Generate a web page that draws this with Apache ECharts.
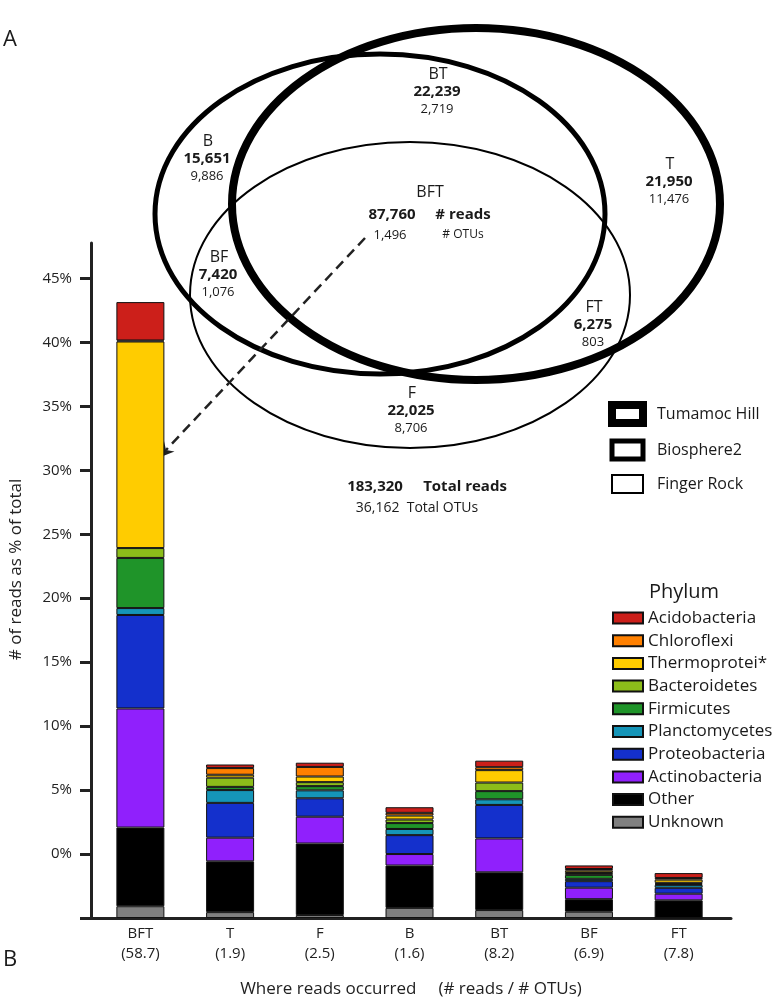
<!DOCTYPE html>
<html>
<head>
<meta charset="utf-8">
<script src="https://cdn.jsdelivr.net/npm/echarts@6/dist/echarts.min.js"></script>
<style>html,body{margin:0;padding:0;background:#fff}#c{width:780px;height:1003px}</style>
</head>
<body>
<div id="c"></div>
<script>
// ---- data (percent of total reads) ----
var categories = ['BFT', 'T', 'F', 'B', 'BT', 'BF', 'FT'];
var ratios = ['58.7', '1.9', '2.5', '1.6', '8.2', '6.9', '7.8'];
var unknown = [0.92, 0.46, 0.23, 0.79, 0.62, 0.49, 0];
var other   = [6.15, 3.97, 5.59, 3.31, 2.95, 0.98, 1.38];
var actino  = [9.31, 1.85, 2.10, 0.90, 2.65, 0.90, 0.52];
var proteo  = [7.31, 2.72, 1.44, 1.48, 2.62, 0.51, 0.46];
var planct  = [0.54, 1.00, 0.62, 0.48, 0.44, 0.18, 0.23];
var firm    = [3.92, 0.25, 0.33, 0.46, 0.64, 0.31, 0.08];
var bact    = [0.77, 0.72, 0.31, 0.28, 0.67, 0.15, 0.08];
var thermo  = [16.15, 0.23, 0.44, 0.31, 0.97, 0.18, 0.25];
var chloro  = [0.08, 0.52, 0.75, 0.21, 0.23, 0.13, 0.13];
var acido   = [3.00, 0.28, 0.33, 0.44, 0.51, 0.28, 0.38];
var yTickValues = [0, 5, 10, 15, 20, 25, 30, 35, 40, 45, 50];
var yLabelValues = [5, 10, 15, 20, 25, 30, 35, 40, 45, 50];
// Venn numbers
var vennRegions = [
  {name: 'BT', reads: '22,239', otus: '2,719'},
  {name: 'B', reads: '15,651', otus: '9,886'},
  {name: 'T', reads: '21,950', otus: '11,476'},
  {name: 'BFT', reads: '87,760', otus: '1,496'},
  {name: 'BF', reads: '7,420', otus: '1,076'},
  {name: 'FT', reads: '6,275', otus: '803'},
  {name: 'F', reads: '22,025', otus: '8,706'}
];
var totalReads = '183,320', totalOTUs = '36,162';
var siteNames = ['Tumamoc Hill', 'Biosphere2', 'Finger Rock'];

var phyla = [
  {name: 'Unknown', data: unknown, color: '#808080'},
  {name: 'Other', data: other, color: '#000000'},
  {name: 'Actinobacteria', data: actino, color: '#9020fc'},
  {name: 'Proteobacteria', data: proteo, color: '#1430cc'},
  {name: 'Planctomycetes', data: planct, color: '#1595b8'},
  {name: 'Firmicutes', data: firm, color: '#1f9429'},
  {name: 'Bacteroidetes', data: bact, color: '#8cbd1a'},
  {name: 'Thermoprotei*', data: thermo, color: '#ffcc00'},
  {name: 'Chloroflexi', data: chloro, color: '#ff8000'},
  {name: 'Acidobacteria', data: acido, color: '#cc1f1a'}
];

var FONT = '"Open Sans", sans-serif';
var chart = echarts.init(document.getElementById('c'), null, {renderer: 'canvas'});

// value in first dimension so that it is the stacked one; category index second
var series = phyla.map(function (p) {
  return {
    name: p.name, type: 'bar', stack: 'all', barWidth: 48,
    encode: {x: 1, y: 0},
    itemStyle: {color: p.color, borderColor: '#111', borderWidth: 1},
    data: p.data.map(function (v, i) { return [v, i]; })
  };
});

// ---- Venn / annotations ----
function t(x, y, text, size, bold) {
  return {type: 'text', silent: true, style: {x: x, y: y, text: text, fill: '#1a1a1a',
    font: (bold ? 'bold ' : '') + size + 'px ' + FONT, align: 'center', verticalAlign: 'middle',
    textAlign: 'center', textVerticalAlign: 'middle'}};
}
var vennPos = {
  BT: [438, 74], B: [208, 141], T: [670, 164], BF: [219, 257], FT: [594, 307], F: [412, 393]
};
var graphics = [];
graphics.push({type: 'ellipse', silent: true, shape: {cx: 380, cy: 214, rx: 225, ry: 160},
  style: {fill: null, stroke: '#000', lineWidth: 5}});
graphics.push({type: 'ellipse', silent: true, shape: {cx: 476, cy: 204, rx: 244, ry: 176},
  style: {fill: null, stroke: '#000', lineWidth: 8}});
graphics.push({type: 'ellipse', silent: true, shape: {cx: 410, cy: 295, rx: 220, ry: 153},
  style: {fill: null, stroke: '#000', lineWidth: 2}});
vennRegions.forEach(function (r) {
  if (r.name === 'BFT') {
    graphics.push(t(430, 192, 'BFT', 16, false));
    graphics.push(t(392, 215, r.reads, 15, true));
    graphics.push(t(463, 215, '# reads', 15, true));
    graphics.push(t(390, 235, r.otus, 13, false));
    graphics.push(t(463, 235, '# OTUs', 12, false));
  } else {
    var p = vennPos[r.name];
    graphics.push(t(p[0], p[1], r.name, 16, false));
    graphics.push(t(p[0] - 1, p[1] + 18, r.reads, 15, true));
    graphics.push(t(p[0] - 1, p[1] + 35, r.otus, 13, false));
  }
});
graphics.push(t(375, 487, totalReads, 15, true));
graphics.push(t(465, 487, 'Total reads', 15, true));
graphics.push(t(417, 508, totalOTUs + '  Total OTUs', 14, false));
// dashed arrow
graphics.push({type: 'line', silent: true, shape: {x1: 365, y1: 238, x2: 166, y2: 450},
  style: {stroke: '#222', lineWidth: 2.5, lineDash: [10, 6]}});
graphics.push({type: 'polygon', silent: true,
  shape: {points: [[158, 458], [174.5, 451.5], [166, 450], [164, 441]]},
  style: {fill: '#222'}});
// site legend
var siteW = [8, 5, 2], siteY = [414, 450, 484];
siteNames.forEach(function (s, i) {
  graphics.push({type: 'rect', silent: true, shape: {x: 612, y: siteY[i] - 9, width: 31, height: 18},
    style: {fill: '#fff', stroke: '#000', lineWidth: siteW[i]}});
  graphics.push({type: 'text', silent: true, style: {x: 657, y: siteY[i], text: s, fill: '#1a1a1a',
    font: '16px ' + FONT, verticalAlign: 'middle', textVerticalAlign: 'middle'}});
});
graphics.push(t(684, 592, 'Phylum', 20, false));
graphics.push({type: 'text', silent: true, style: {x: 10, y: 40, text: 'A', fill: '#1a1a1a',
  font: '22px ' + FONT, align: 'center', verticalAlign: 'middle', textAlign: 'center', textVerticalAlign: 'middle'}});
graphics.push({type: 'text', silent: true, style: {x: 10, y: 960, text: 'B', fill: '#1a1a1a',
  font: '22px ' + FONT, align: 'center', verticalAlign: 'middle', textAlign: 'center', textVerticalAlign: 'middle'}});

var option = {
  backgroundColor: '#fff',
  animation: false,
  textStyle: {fontFamily: FONT},
  grid: {left: 83, top: 243, width: 648, height: 686, containLabel: false},
  legend: {
    orient: 'vertical', left: 612, top: 608, padding: 0,
    itemWidth: 30, itemHeight: 11, itemGap: 2.7, icon: 'rect',
    selectedMode: false,
    data: phyla.slice().reverse().map(function (p) { return p.name; }),
    textStyle: {fontSize: 17, color: '#1a1a1a', lineHeight: 20, fontFamily: FONT}
  },
  xAxis: {
    type: 'value', min: -0.5505, max: 6.5835,
    splitLine: {show: false},
    axisLine: {show: true, onZero: false, lineStyle: {color: '#222', width: 3}},
    axisTick: {show: false},
    axisLabel: {
      customValues: [0, 1, 2, 3, 4, 5, 6],
      formatter: function (v) { var i = Math.round(v); return categories[i] + '\n(' + ratios[i] + ')'; },
      fontSize: 15, lineHeight: 20, color: '#222', margin: 6, fontFamily: FONT
    },
    name: 'Where reads occurred     (# reads / # OTUs)',
    nameLocation: 'middle', nameGap: 63,
    nameTextStyle: {fontSize: 17, color: '#222', fontFamily: FONT}
  },
  yAxis: {
    type: 'value', min: 0, max: 52.77,
    splitLine: {show: false},
    axisLine: {show: true, onZero: false, lineStyle: {color: '#222', width: 3}},
    axisTick: {show: true, customValues: yTickValues, length: 11, lineStyle: {color: '#222', width: 3}},
    axisLabel: {
      customValues: yLabelValues,
      formatter: function (v) { return (v - 5) + '%'; },
      fontSize: 15, color: '#222', margin: 19, fontFamily: FONT
    },
    name: '# of reads as % of total',
    nameLocation: 'middle', nameGap: 66, nameRotate: 90,
    nameTextStyle: {fontSize: 17, color: '#222', fontFamily: FONT, padding: [0, 0, 0, 22]}
  },
  series: series,
  graphic: {elements: graphics}
};
chart.setOption(option);
</script>
</body>
</html>
